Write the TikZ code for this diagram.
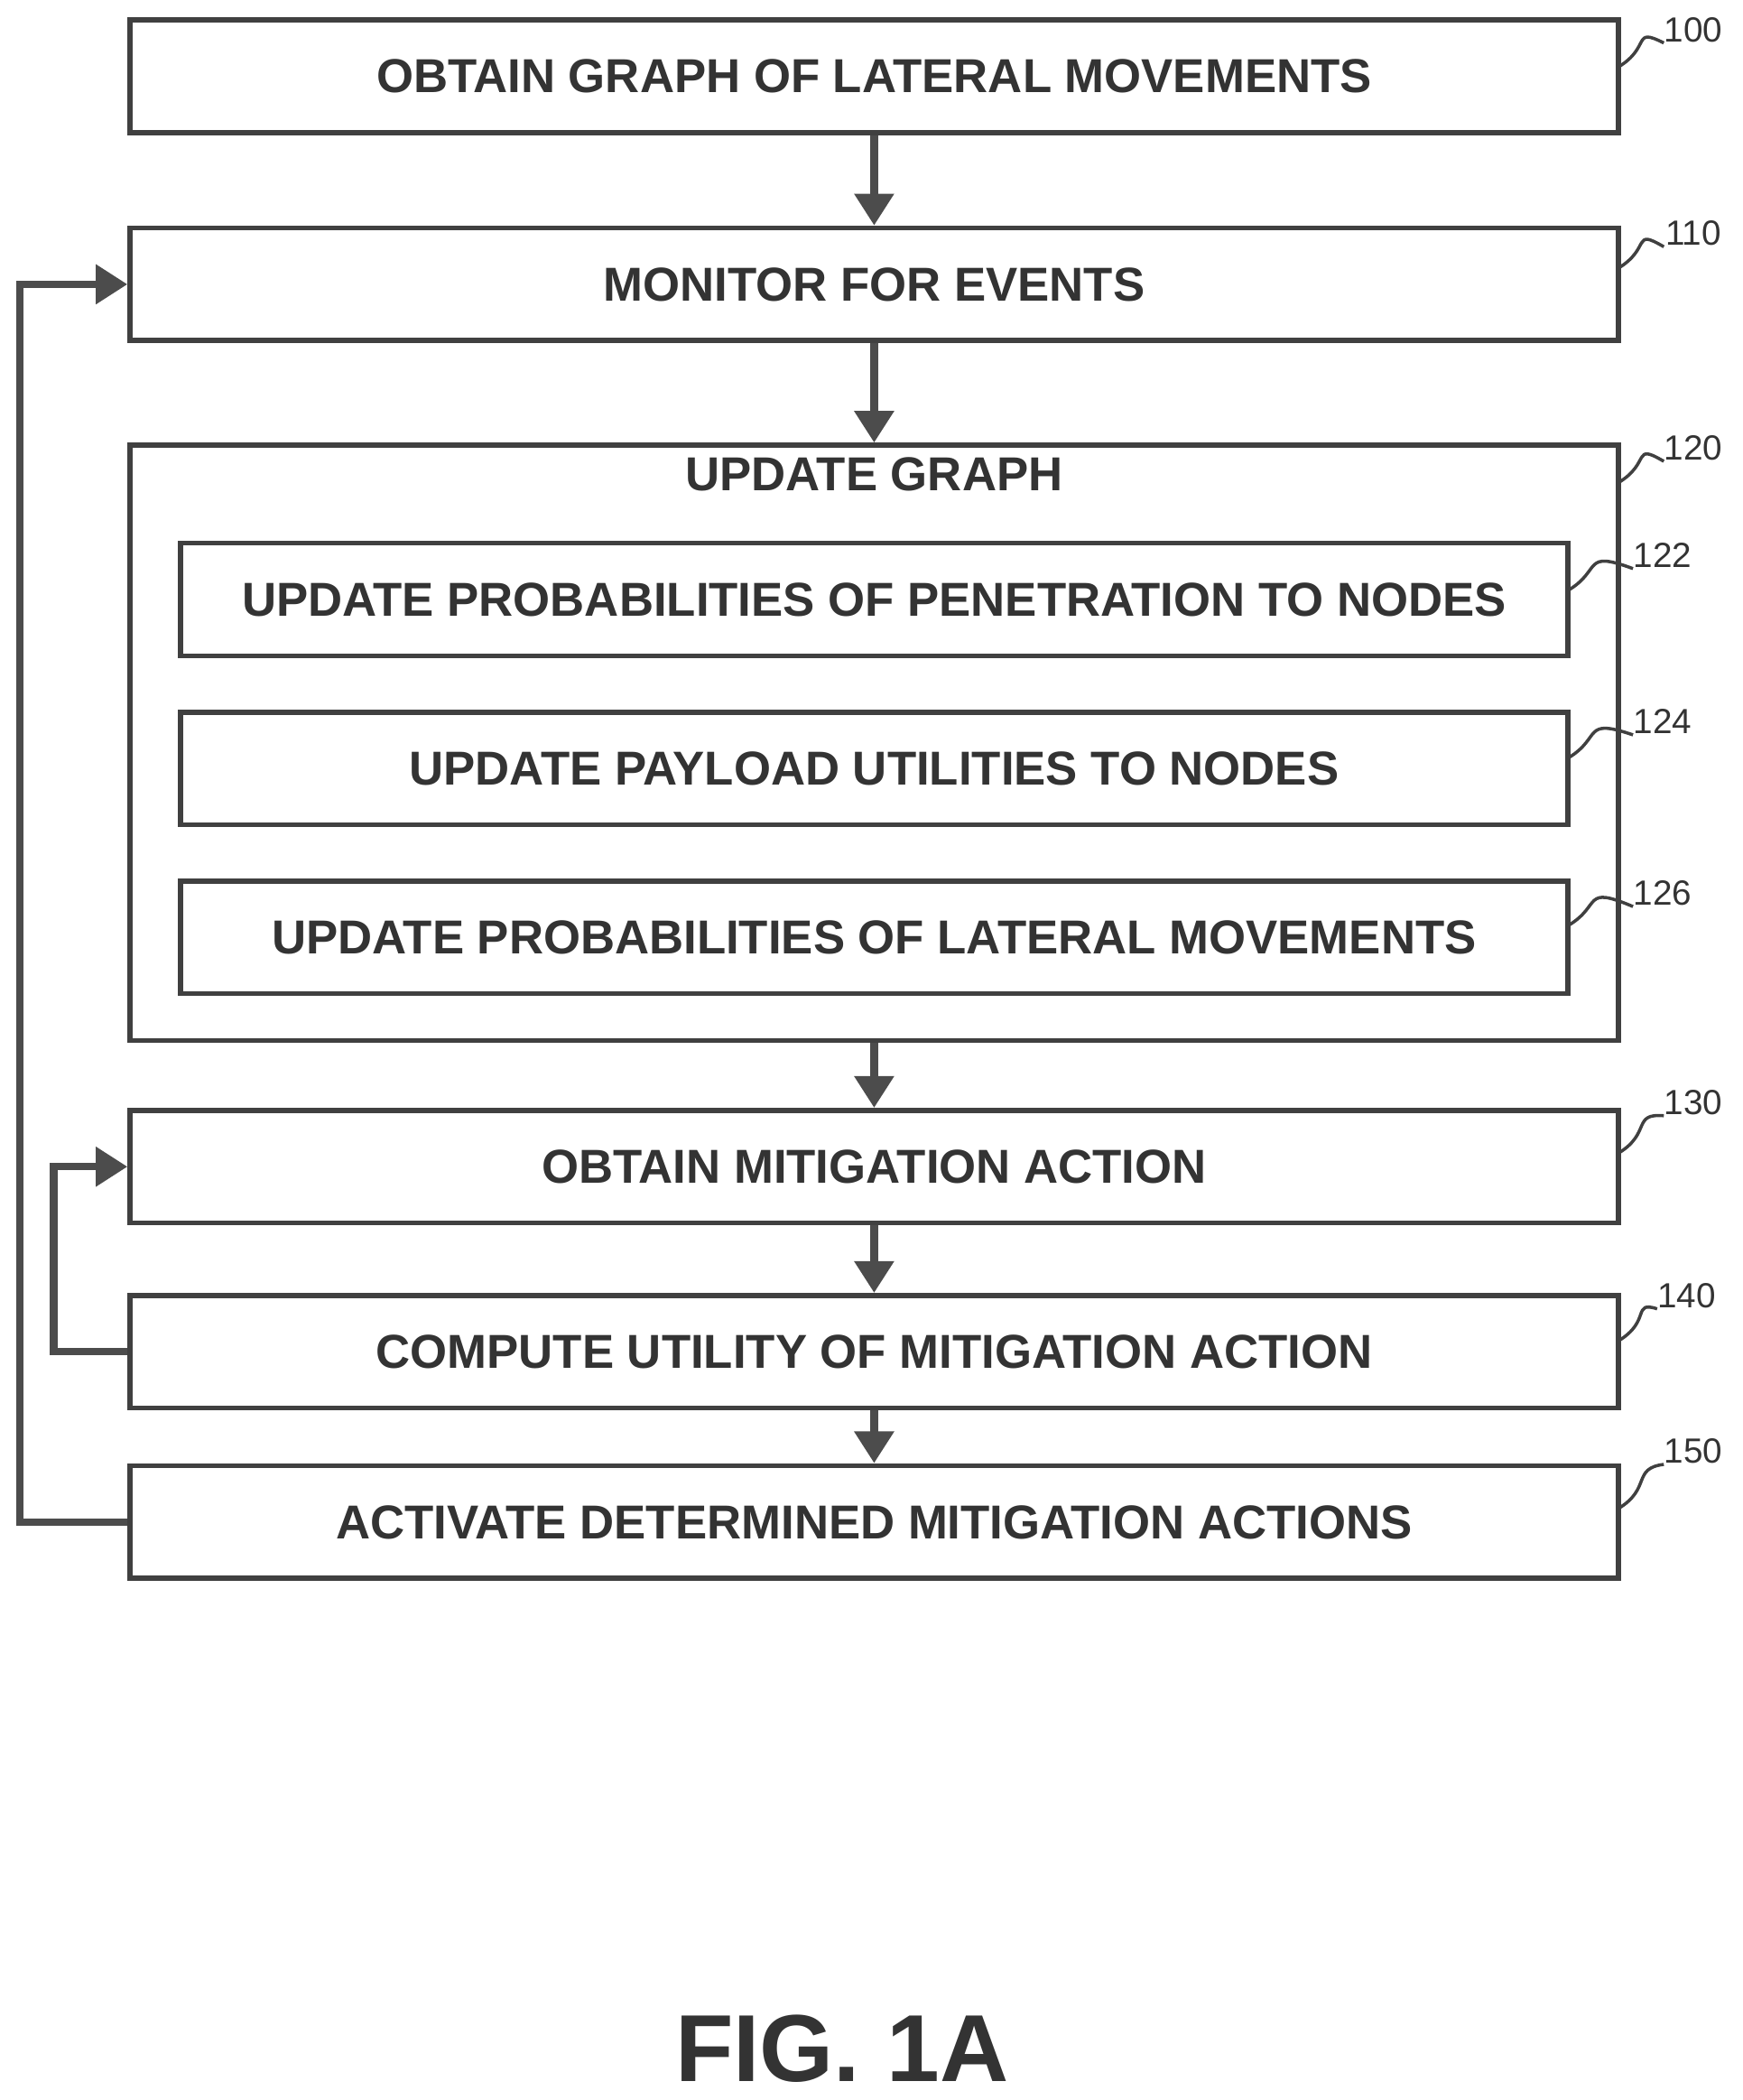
\documentclass[tikz,border=0pt]{standalone}
\usepackage{fontspec}
\setmainfont{Liberation Sans}
\usetikzlibrary{arrows.meta}

\tikzset{
  stepbox/.style={draw=black!75, line width=1.6pt, minimum height=84*0.01485cm, inner sep=0pt,
    font=\fontsize{15}{18}\selectfont\bfseries, text=black!80},
  big/.style={stepbox, minimum width=1110*0.01485cm},
  sub/.style={stepbox, minimum width=1035*0.01485cm},
  flow/.style={draw=black!70, line width=2.4pt, -{Triangle[length=10pt,width=12pt]}},
  ref/.style={font=\fontsize{11}{13}\selectfont, text=black!80},
  lead/.style={draw=black!75, line width=1pt}
}

\begin{document}
\begin{tikzpicture}[x=0.01485cm, y=-0.01485cm]

% frame of the page
\useasboundingbox (0,0) rectangle (1300,1566);

% main steps
\node[big] (s100) at (652,57) {OBTAIN GRAPH OF LATERAL MOVEMENTS};
\node[big] (s110) at (652,212) {MONITOR FOR EVENTS};
\node[draw=black!75, line width=1.6pt, minimum width=1110*0.01485cm, minimum height=444*0.01485cm, inner sep=0pt] (s120) at (652,554) {};
\node[font=\fontsize{15}{18}\selectfont\bfseries, text=black!80] (t120) at (652,354) {UPDATE GRAPH};
\node[sub] (s122) at (652,447) {UPDATE PROBABILITIES OF PENETRATION TO NODES};
\node[sub] (s124) at (652,573) {UPDATE PAYLOAD UTILITIES TO NODES};
\node[sub] (s126) at (652,699) {UPDATE PROBABILITIES OF LATERAL MOVEMENTS};
\node[big] (s130) at (652,870) {OBTAIN MITIGATION ACTION};
\node[big] (s140) at (652,1008) {COMPUTE UTILITY OF MITIGATION ACTION};
\node[big] (s150) at (652,1135) {ACTIVATE DETERMINED MITIGATION ACTIONS};

% arrows between steps
\draw[flow] (s100) -- (s110);
\draw[flow] (s110) -- (s120);
\draw[flow] (s120) -- (s130);
\draw[flow] (s130) -- (s140);
\draw[flow] (s140) -- (s150);

% loops back
\coordinate (c1) at (15,1135);
\coordinate (c2) at (15,212);
\draw[flow] (s150.west) -- (c1) -- (c2) -- (s110.west);
\coordinate (c3) at (40,1008);
\coordinate (c4) at (40,870);
\draw[flow] (s140.west) -- (c3) -- (c4) -- (s130.west);

% reference numerals
\foreach \n/\bx/\by/\lx/\ly in {100/1207/50/1263/22, 110/1207/200/1263/174, 120/1207/360/1263/334,
  122/1170/440/1240/414, 124/1170/565/1240/538, 126/1170/690/1240/666,
  130/1207/860/1263/822, 140/1207/1000/1258/966, 150/1207/1125/1263/1082} {
  \node[ref] (r\n) at (\lx,\ly) {\n};
  \coordinate (e\n) at (\bx,\by);
  \draw[lead] (e\n) .. controls (\bx+25,\by-15) and (\bx+10,\by-30) .. (\lx-22,\ly+10);
}

% caption
\node[font=\fontsize{30}{34}\selectfont\bfseries, text=black!80] (fig) at (628,1528) {FIG. 1A};

\end{tikzpicture}
\end{document}
